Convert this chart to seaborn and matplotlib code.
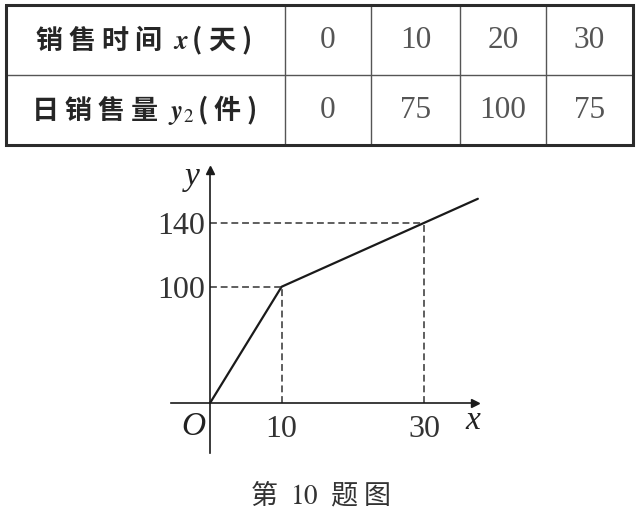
import numpy as np
import matplotlib
matplotlib.use("Agg")
import matplotlib.pyplot as plt
import seaborn as sns

# table data
days = [0, 10, 20, 30]
sales_y2 = [0, 75, 100, 75]
row_labels = ["销 售 时 间$\\ \\ \\boldsymbol{x}\\,$( 天 )",
              "日 销 售 量$\\ \\ \\boldsymbol{y}_{2}\\,$( 件 )"]

# graph data (polyline y1 against x)
line_x = [0, 10, 30, 37.5]
line_y = [0, 100, 140, 155]
x_ticks = [10, 30]
y_ticks = [100, 140]
caption = "第$\\ \\ \\mathrm{10}\\ \\ $题 图"

sns.set_theme(style="white")
plt.rcParams["font.family"] = ["Noto Sans CJK SC", "DejaVu Sans"]
plt.rcParams["mathtext.fontset"] = "stix"

W, H = 637, 513
fig = plt.figure(figsize=(W / 100, H / 100), dpi=100)
fig.patch.set_facecolor("white")

# ---- table, drawn in pixel coordinates ----
axt = fig.add_axes([0, 0, 1, 1])
axt.set_xlim(0, W)
axt.set_ylim(H, 0)
axt.axis("off")

col_edges = [6, 285, 371, 460, 546, 633]
row_edges = [5, 75, 145]
ink = "#2b2b2b"
axt.hlines(row_edges[1], col_edges[0], col_edges[-1], color="#555555", lw=1.0)
axt.vlines(col_edges[1:-1], row_edges[0], row_edges[-1], color="#555555", lw=1.0)
axt.plot([col_edges[0], col_edges[-1], col_edges[-1], col_edges[0], col_edges[0]],
         [row_edges[0], row_edges[0], row_edges[-1], row_edges[-1], row_edges[0]],
         color=ink, lw=2.2, solid_joinstyle="miter")

row_mid = [(row_edges[i] + row_edges[i + 1]) / 2 for i in range(2)]
col_mid = [(col_edges[i] + col_edges[i + 1]) / 2 for i in range(len(col_edges) - 1)]
for r, (label, values) in enumerate(zip(row_labels, [days, sales_y2])):
    axt.text(col_mid[0] - 2, row_mid[r], label, ha="center", va="center",
             fontsize=19.5, fontweight="bold", color="#262626")
    for c, v in enumerate(values):
        axt.text(col_mid[c + 1], row_mid[r] + 1, str(v), ha="center", va="center",
                 fontsize=22.5, family="Liberation Serif", color="#555555")

# ---- graph ----
# the printed y axis is not to scale: 100..140 is stretched compared to 0..100
stretch = 1.379


def fwd(y):
    y = np.asarray(y, dtype=float)
    return np.where(y <= 100, y, 100 + (y - 100) * stretch)


def inv(p):
    p = np.asarray(p, dtype=float)
    return np.where(p <= 100, p, 100 + (p - 100) / stretch)


ax = fig.add_axes([171.0 / W, 1 - 453 / H, 304.0 / W, 283.0 / H])
ax.patch.set_alpha(0)
ax.set_yscale("function", functions=(fwd, inv))
ax.set_xlim(-5.5, 37.1)
ax.set_ylim(-43.4, 173)

sns.lineplot(x=line_x, y=line_y, ax=ax, color="#1a1a1a", lw=1.6,
             sort=False, estimator=None, clip_on=False)

dash = (0, (4.5, 2.5))
for xt, yt in zip(x_ticks, y_ticks):
    ax.plot([0, xt], [yt, yt], color="#333333", lw=1.1, ls=dash)
    ax.plot([xt, xt], [0, yt], color="#333333", lw=1.1, ls=dash)

for side in ["top", "right"]:
    ax.spines[side].set_visible(False)
for side in ["left", "bottom"]:
    ax.spines[side].set_position(("data", 0))
    ax.spines[side].set_color("#1a1a1a")
    ax.spines[side].set_linewidth(1.2)
ax.plot(1, 0, ">", color="#1a1a1a", ms=6, transform=ax.get_yaxis_transform(), clip_on=False)
ax.plot(0, 1, "^", color="#1a1a1a", ms=6, transform=ax.get_xaxis_transform(), clip_on=False)

ax.set_xticks(x_ticks)
ax.set_xticklabels([str(t) for t in x_ticks])
ax.set_yticks(y_ticks)
ax.set_yticklabels([str(t) for t in y_ticks])
ax.yaxis.set_minor_locator(matplotlib.ticker.NullLocator())
ax.xaxis.set_minor_locator(matplotlib.ticker.NullLocator())
ax.tick_params(axis="both", length=0, labelsize=23, colors="#333333")
ax.tick_params(axis="x", pad=9)
ax.tick_params(axis="y", pad=4)
for lab in ax.get_xticklabels() + ax.get_yticklabels():
    lab.set_family("Liberation Serif")
ax.grid(False)

serif_it = dict(family="Liberation Serif", style="italic", fontsize=24, color="#222222")
ax.annotate("O", xy=(0, 0), xytext=(-12, -17), textcoords="offset points",
            ha="center", va="center", **serif_it)
ax.annotate("x", xy=(1, 0), xycoords=ax.get_yaxis_transform(), xytext=(-1.5, -13),
            textcoords="offset points", ha="center", va="center", **serif_it)
ax.annotate("y", xy=(0, 1), xycoords=ax.get_xaxis_transform(), xytext=(-13, -5),
            textcoords="offset points", ha="center", va="center", **serif_it)

fig.text(320 / W, 1 - 495 / H, caption, ha="center", va="center",
         fontsize=19.5, color="#333333")

fig.savefig("out.png", dpi=100, facecolor="white")
